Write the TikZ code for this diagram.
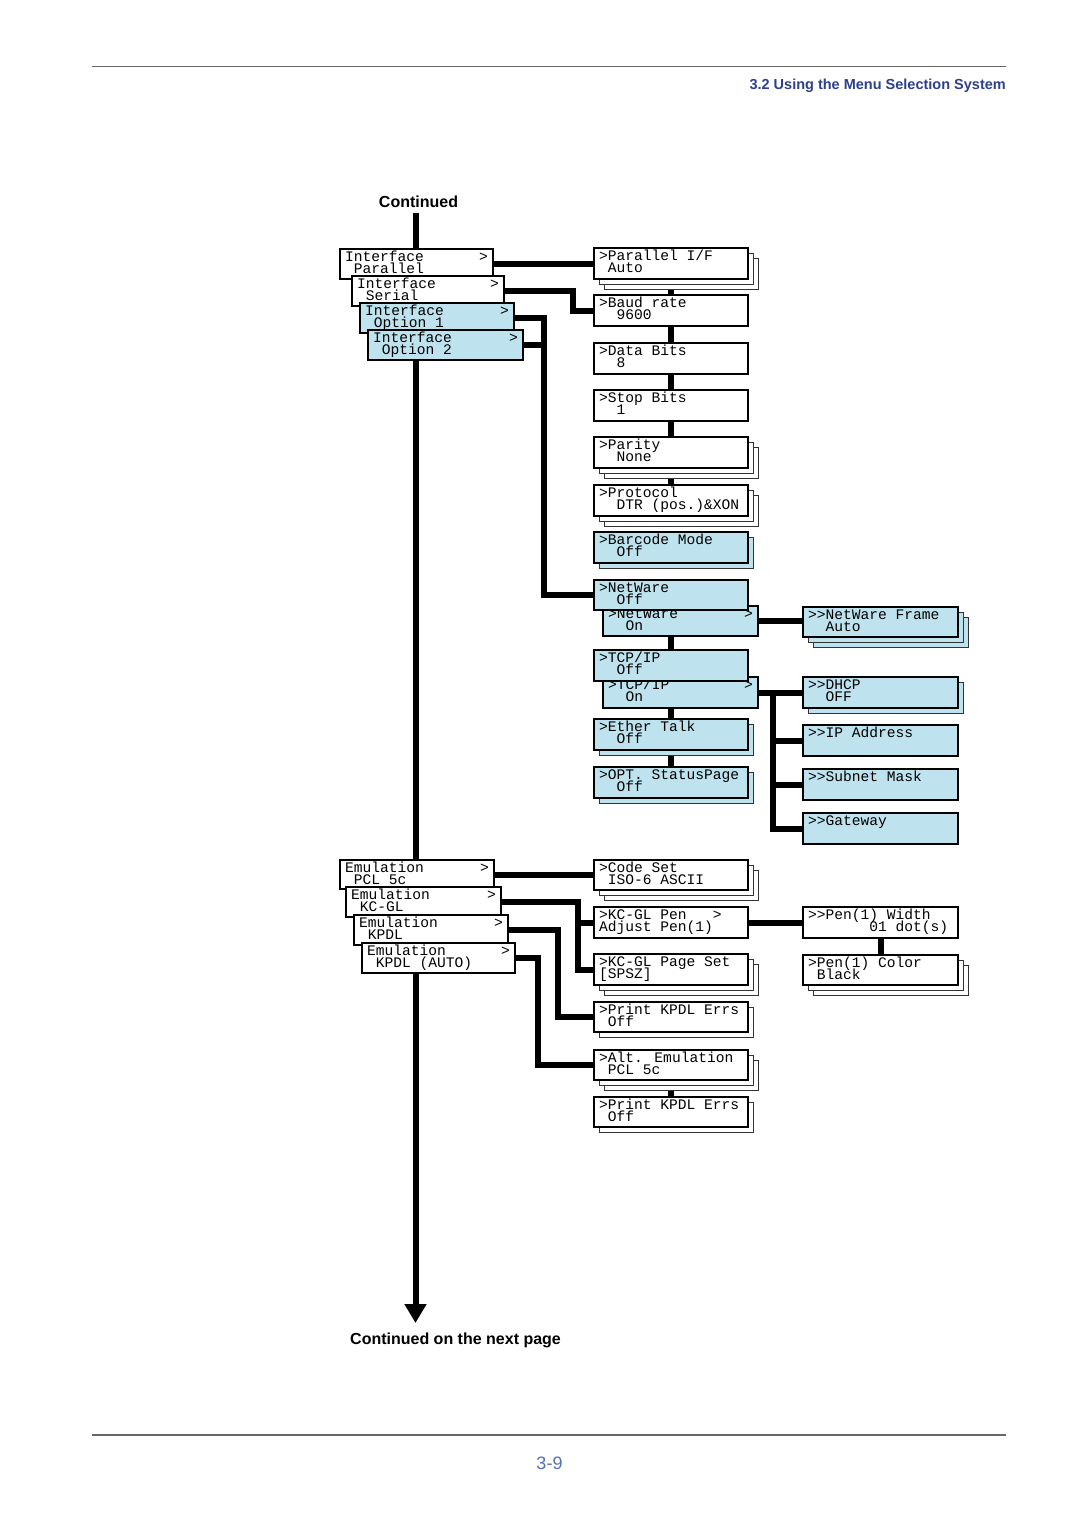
\documentclass[tikz,border=0pt]{standalone}
\usepackage{fontspec}
\setmainfont{Liberation Sans}
\newfontfamily\monof{Liberation Mono}
\usetikzlibrary{arrows.meta,calc,backgrounds}
\definecolor{boxblue}{RGB}{190,227,238}
\definecolor{headblue}{RGB}{46,64,140}
\definecolor{pageblue}{RGB}{84,112,182}
\tikzset{
  mbox/.style={draw=black, line width=1.8pt, inner sep=0pt, outer sep=0pt, anchor=north west},
  shad/.style={draw=black!80, line width=0.9pt, inner sep=0pt, outer sep=0pt, anchor=north west},
  mtxt/.style={font=\monof\fontsize{14.6}{14.6}\selectfont, inner sep=0pt, outer sep=0pt, anchor=base west},
  conn/.style={line width=6pt},
  rulel/.style={draw=black!60, line width=1.2pt},
}
\newcommand\indch[1]{\hspace*{#1\dimexpr8.76pt\relax}}
% #1 name, #2 fill, #3 x, #4 y, #5 w, #6 h, #7 shadows, #8 line1, #9 line2
\newcommand\menubox[9]{%
  \ifnum#7>1 \node[shad, fill=#2, minimum width=#5pt, minimum height=#6pt] (#1-s2) at (#3+10,#4+10) {};\fi
  \ifnum#7>0 \node[shad, fill=#2, minimum width=#5pt, minimum height=#6pt] (#1-s1) at (#3+5,#4+5) {};\fi
  \node[mbox, fill=#2, minimum width=#5pt, minimum height=#6pt] (#1) at (#3,#4) {};
  \node[mtxt] (#1-a) at ($(#1.north west)+(5,12.8)$) {\hbox to \dimexpr#5pt-10pt\relax{#8\hfil}};
  \node[mtxt] (#1-b) at ($(#1.north west)+(5,24.6)$) {#9};
}
\begin{document}
\begin{tikzpicture}[x=1pt,y=-1pt]
\useasboundingbox (0,0) rectangle (1080,1528);
% header / footer
\coordinate (rtl) at (92,66.5); \coordinate (rtr) at (1006,66.5);
\coordinate (rbl) at (92,1435); \coordinate (rbr) at (1006,1435);
\draw[rulel] (rtl) -- (rtr);
\draw[rulel] (rbl) -- (rbr);
\node[anchor=base east, inner sep=0pt, text=headblue, font=\bfseries\fontsize{14.5}{14.5}\selectfont] (hdr) at (1006,89) {3.2 Using the Menu Selection System};
\node[anchor=base, inner sep=0pt, text=pageblue, font=\fontsize{18}{18}\selectfont] (pgno) at (549.5,1469) {3-9};
\node[anchor=base, inner sep=0pt, font=\bfseries\fontsize{16}{16}\selectfont] (cont) at (418.5,207) {Continued};
\node[anchor=base west, inner sep=0pt, font=\bfseries\fontsize{16}{16}\selectfont] (contnext) at (350,1344) {Continued on the next page};
\coordinate (mtop) at (415.5,213);
\coordinate (mend) at (415.5,1323);
% interface stack
\menubox{ifA}{white}{340}{249}{153}{30}{0}{Interface\hfill>}{\indch{1}Parallel}
\menubox{ifB}{white}{352}{276}{152}{30}{0}{Interface\hfill>}{\indch{1}Serial}
\menubox{ifC}{boxblue}{360}{303}{154}{30}{0}{Interface\hfill>}{\indch{1}Option 1}
\menubox{ifD}{boxblue}{368}{330}{155}{30}{0}{Interface\hfill>}{\indch{1}Option 2}
% right column
\menubox{parif}{white}{594}{248}{154}{31}{2}{>Parallel I/F}{\indch{1}Auto}
\menubox{baud}{white}{594}{295}{154}{31}{0}{>Baud rate}{\indch{2}9600}
\menubox{dbits}{white}{594}{343}{154}{31}{0}{>Data Bits}{\indch{2}8}
\menubox{sbits}{white}{594}{390}{154}{31}{0}{>Stop Bits}{\indch{2}1}
\menubox{parity}{white}{594}{437}{154}{31}{2}{>Parity}{\indch{2}None}
\menubox{proto}{white}{594}{485}{154}{31}{2}{>Protocol}{\indch{2}DTR (pos.)\&XON}
\menubox{barcode}{boxblue}{594}{532}{154}{31}{1}{>Barcode Mode}{\indch{2}Off}
\menubox{nwon}{boxblue}{603}{606}{155}{30}{0}{>NetWare\hfill>}{\indch{2}On}
\menubox{nwoff}{boxblue}{594}{580}{154}{30}{0}{>NetWare}{\indch{2}Off}
\menubox{nwframe}{boxblue}{803}{607}{155}{30}{2}{>{}>NetWare Frame}{\indch{2}Auto}
\menubox{tcpon}{boxblue}{603}{677}{155}{31}{0}{>TCP/IP\hfill>}{\indch{2}On}
\menubox{tcpoff}{boxblue}{594}{650}{154}{31}{0}{>TCP/IP}{\indch{2}Off}
\menubox{dhcp}{boxblue}{803}{677}{155}{31}{1}{>{}>DHCP}{\indch{2}OFF}
\menubox{ipaddr}{boxblue}{803}{725}{155}{31}{0}{>{}>IP Address}{}
\menubox{subnet}{boxblue}{803}{769}{155}{31}{0}{>{}>Subnet Mask}{}
\menubox{gateway}{boxblue}{803}{813}{155}{31}{0}{>{}>Gateway}{}
\menubox{ether}{boxblue}{594}{719}{154}{31}{1}{>Ether Talk}{\indch{2}Off}
\menubox{opt}{boxblue}{594}{767}{154}{31}{1}{>OPT. StatusPage}{\indch{2}Off}
% emulation stack
\menubox{emA}{white}{340}{860}{154}{29}{0}{Emulation\hfill>}{\indch{1}PCL 5c}
\menubox{emB}{white}{346}{887}{155}{30}{0}{Emulation\hfill>}{\indch{1}KC-GL}
\menubox{emC}{white}{354}{915}{154}{30}{0}{Emulation\hfill>}{\indch{1}KPDL}
\menubox{emD}{white}{362}{943}{153}{30}{0}{Emulation\hfill>}{\indch{1}KPDL (AUTO)}
% emulation right
\menubox{codeset}{white}{594}{860}{154}{30}{2}{>Code Set}{\indch{1}ISO-6 ASCII}
\menubox{kcpen}{white}{594}{907}{154}{31}{0}{>KC-GL Pen\indch{3}>}{Adjust Pen(1)}
\menubox{kcpage}{white}{594}{954}{154}{31}{2}{>KC-GL Page Set}{[SPSZ]}
\menubox{penw}{white}{803}{907}{155}{31}{0}{>{}>Pen(1) Width}{\indch{7}01 dot(s)}
\menubox{penc}{white}{803}{955}{155}{30}{2}{>Pen(1) Color}{\indch{1}Black}
\menubox{kpdl1}{white}{594}{1002}{154}{30}{1}{>Print KPDL Errs}{\indch{1}Off}
\menubox{alt}{white}{594}{1050}{154}{30}{2}{>Alt. Emulation}{\indch{1}PCL 5c}
\menubox{kpdl2}{white}{594}{1097}{154}{30}{1}{>Print KPDL Errs}{\indch{1}Off}
% junction x positions
\coordinate (jS) at (573,0);
\coordinate (jN) at (544,0);
\coordinate (jT) at (773,0);
\coordinate (jK) at (578,0);
\coordinate (jP) at (558,0);
\coordinate (jA) at (538,0);
\begin{pgfonlayer}{background}
\fill[white] (0,0) rectangle (1080,1528);
\draw[conn, -{Triangle[width=21pt,length=19pt]}] (mtop) -- (mend);
\draw[conn] (ifA.east) -- (ifA.east -| parif.west);
\draw[conn] (ifB.east) -| (jS |- baud.west) -- (baud.west);
\draw[conn] (ifC.east) -| (jN |- nwoff.west) -- (nwoff.west);
\draw[conn] (ifD.east) -- (ifD.east -| jN);
\draw[conn] (parif.south) -- (baud.north);
\draw[conn] (baud.south) -- (dbits.north);
\draw[conn] (dbits.south) -- (sbits.north);
\draw[conn] (sbits.south) -- (parity.north);
\draw[conn] (parity.south) -- (proto.north);
\draw[conn] (tcpoff.north) -- (tcpoff.north |- nwon.south);
\draw[conn] (ether.north) -- (ether.north |- tcpon.south);
\draw[conn] (ether.south) -- (opt.north);
\draw[conn] (nwon.east) -- (nwon.east -| nwframe.west);
\draw[conn] (tcpon.east) -- (tcpon.east -| dhcp.west);
\draw[conn] (jT |- tcpon.east) |- (gateway.west);
\draw[conn] (jT |- ipaddr.west) -- (ipaddr.west);
\draw[conn] (jT |- subnet.west) -- (subnet.west);
\draw[conn] (emA.east) -- (emA.east -| codeset.west);
\draw[conn] (emB.east) -| (jK |- kcpage.west) -- (kcpage.west);
\draw[conn] (jK |- kcpen.west) -- (kcpen.west);
\draw[conn] (emC.east) -| (jP |- kpdl1.west) -- (kpdl1.west);
\draw[conn] (emD.east) -| (jA |- alt.west) -- (alt.west);
\draw[conn] (kcpen.east) -- (penw.west);
\draw[conn] (penw.south) -- (penc.north);
\draw[conn] (alt.south) -- (kpdl2.north);
\end{pgfonlayer}
\end{tikzpicture}
\end{document}
